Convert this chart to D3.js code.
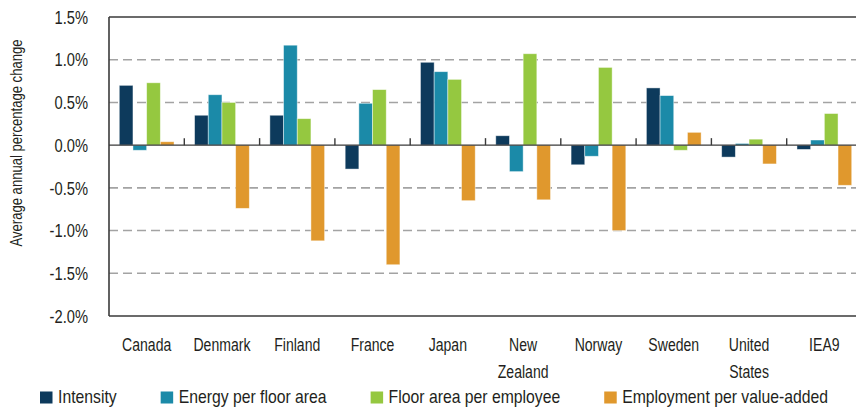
<!DOCTYPE html>
<html>
<head>
<meta charset="utf-8">
<script src="https://cdn.jsdelivr.net/npm/d3@7"></script>
<style>
    body { margin: 0; background: #fff; }
    svg text { font-family: "Liberation Sans", Arial, sans-serif; fill: #231f20; }
</style>
</head>
<body>
<div id="chart"></div>
<script>
// data (average annual % change)
const countries = ["Canada", "Denmark", "Finland", "France", "Japan", "New Zealand", "Norway", "Sweden", "United States", "IEA9"];
const seriesNames = ["Intensity", "Energy per floor area", "Floor area per employee", "Employment per value-added"];
const colors = ["#0d3a5c", "#1b8aa8", "#95c840", "#e0982d"];

const intensity = [0.70, 0.35, 0.35, -0.28, 0.97, 0.11, -0.23, 0.67, -0.14, -0.05];
const energyPerFloor = [-0.06, 0.59, 1.17, 0.49, 0.86, -0.31, -0.13, 0.58, 0.02, 0.06];
const floorPerEmployee = [0.73, 0.50, 0.31, 0.65, 0.77, 1.07, 0.91, -0.06, 0.07, 0.37];
const employmentPerVA = [0.04, -0.74, -1.12, -1.40, -0.65, -0.64, -1.00, 0.15, -0.22, -0.47];

const yTicks = [1.5, 1.0, 0.5, 0.0, -0.5, -1.0, -1.5, -2.0];

const seriesValues = [intensity, energyPerFloor, floorPerEmployee, employmentPerVA];

// no condensed font is installed, so texts get squeezed with scale(f,1)
function squeeze(x, y, f) {
    return "translate(" + x + "," + y + ") scale(" + f + ",1)";
}

function drawChart() {
    const width = 856, height = 409;
    const plot = { left: 109, right: 862, top: 17, bottom: 316 };

    const svg = d3.select("#chart")
        .append("svg")
        .attr("width", width)
        .attr("height", height);

    const x0 = d3.scaleBand()
        .domain(countries)
        .range([plot.left, plot.right])
        .paddingInner(0.273)
        .paddingOuter(0.1365);

    const x1 = d3.scaleBand()
        .domain(seriesNames)
        .range([0, x0.bandwidth()]);

    const y = d3.scaleLinear()
        .domain([-2, 1.5])
        .range([plot.bottom, plot.top]);

    const fmt = d3.formatLocale({ decimal: ".", thousands: ",", grouping: [3], currency: ["", ""], minus: "-" }).format(".1f");

    // dashed gridlines
    svg.append("g")
        .selectAll("line")
        .data(yTicks.filter(d => d !== 0 && d !== 1.5 && d !== -2))
        .enter().append("line")
        .attr("x1", plot.left)
        .attr("x2", width)
        .attr("y1", d => y(d))
        .attr("y2", d => y(d))
        .attr("stroke", "#a3a3a3")
        .attr("stroke-width", 1.6)
        .attr("stroke-dasharray", "9,5");

    // frame: top, bottom, left
    const frame = svg.append("g").attr("stroke", "#3a3a3a").attr("stroke-width", 1.6);
    frame.append("line").attr("x1", plot.left).attr("x2", width).attr("y1", y(1.5)).attr("y2", y(1.5));
    frame.append("line").attr("x1", plot.left).attr("x2", width).attr("y1", y(-2)).attr("y2", y(-2));
    frame.append("line").attr("x1", plot.left).attr("x2", plot.left).attr("y1", y(1.5)).attr("y2", y(-2));

    // bars
    const groups = svg.append("g")
        .selectAll("g")
        .data(countries)
        .enter().append("g")
        .attr("transform", d => "translate(" + x0(d) + ",0)");

    groups.selectAll("rect")
        .data((c, i) => seriesNames.map((s, j) => ({ series: s, idx: j, value: seriesValues[j][i] })))
        .enter().append("rect")
        .attr("x", d => x1(d.series))
        .attr("width", x1.bandwidth())
        .attr("y", d => y(Math.max(0, d.value)))
        .attr("height", d => Math.abs(y(d.value) - y(0)))
        .attr("fill", d => colors[d.idx])
        .attr("stroke", "rgba(255,255,255,0.55)")
        .attr("stroke-width", 0.8);

    // zero line with category ticks
    svg.append("line")
        .attr("x1", plot.left).attr("x2", width)
        .attr("y1", y(0)).attr("y2", y(0))
        .attr("stroke", "#3a3a3a")
        .attr("stroke-width", 1.4);

    const step = x0.step();
    svg.append("g")
        .selectAll("line")
        .data(countries.slice(1))
        .enter().append("line")
        .attr("x1", (d, i) => plot.left + (i + 1) * step)
        .attr("x2", (d, i) => plot.left + (i + 1) * step)
        .attr("y1", y(0))
        .attr("y2", y(0) - 7)
        .attr("stroke", "#3a3a3a")
        .attr("stroke-width", 1.4);

    // y tick labels
    svg.append("g")
        .selectAll("text")
        .data(yTicks)
        .enter().append("text")
        .attr("transform", d => squeeze(88, y(d), 0.84))
        .attr("dy", "0.38em")
        .attr("text-anchor", "end")
        .style("font-size", "17.5px")
        .text(d => fmt(d) + "%");

    // y axis title
    svg.append("text")
        .attr("transform", "translate(22,143) rotate(-90) scale(0.77,1)")
        .attr("text-anchor", "middle")
        .style("font-size", "17px")
        .text("Average annual percentage change");

    // category labels (wrap on spaces)
    const labels = svg.append("g")
        .selectAll("text")
        .data(countries)
        .enter().append("text")
        .attr("transform", d => squeeze(x0(d) + x0.bandwidth() / 2, 351, 0.76))
        .attr("text-anchor", "middle")
        .style("font-size", "18.5px");

    labels.each(function (d) {
        const t = d3.select(this);
        d.split(" ").forEach((w, k) => {
            t.append("tspan")
                .attr("x", 0)
                .attr("y", k * 27)
                .text(w);
        });
    });

    // legend
    const f = 0.83;
    let lx = 40;
    seriesNames.forEach(function (name, i) {
        svg.append("rect")
            .attr("x", lx).attr("y", 391.5)
            .attr("width", 12.5).attr("height", 12)
            .attr("fill", colors[i]);
        const txt = svg.append("text")
            .attr("transform", squeeze(lx + 18, 402.5, f))
            .style("font-size", "19px")
            .text(name);
        lx += 18 + txt.node().getComputedTextLength() * f + 44;
    });
}

drawChart();
</script>
</body>
</html>
